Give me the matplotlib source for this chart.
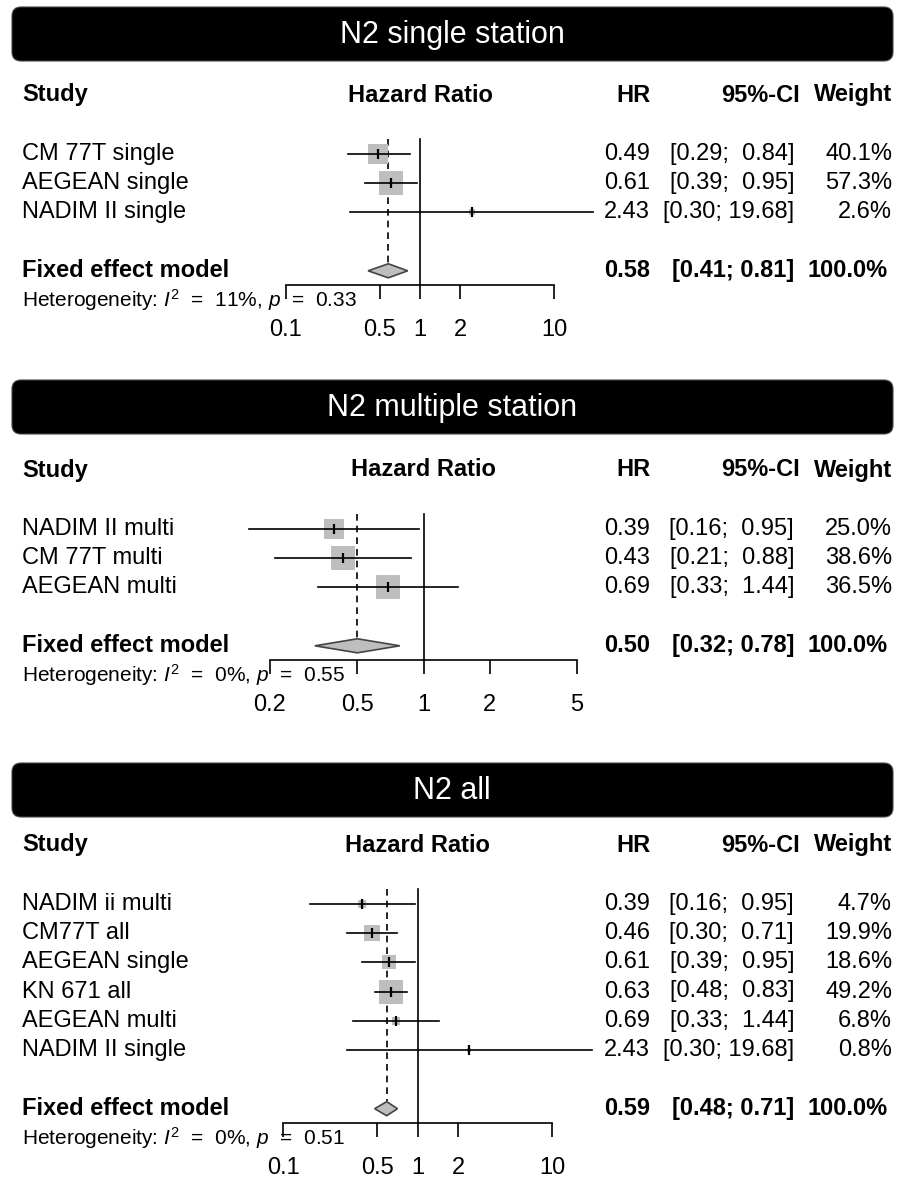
"""
Forest plots of N2 subgroups (single station / multiple station / all)
"""
import matplotlib.pyplot as plt
import matplotlib.transforms as mtransforms
from matplotlib.patches import FancyBboxPatch, Polygon
from matplotlib.ticker import FuncFormatter, NullLocator
import numpy as np

plt.rcParams['font.family'] = ['Liberation Sans', 'DejaVu Sans']
plt.rcParams['mathtext.fontset'] = 'custom'
plt.rcParams['mathtext.rm'] = 'Liberation Sans'
plt.rcParams['mathtext.it'] = 'Liberation Sans:italic'

# ============= DATA =============
single_studies = ["CM 77T single", "AEGEAN single", "NADIM II single"]
single_hr = [0.49, 0.61, 2.43]
single_lo = [0.29, 0.39, 0.30]
single_hi = [0.84, 0.95, 19.68]
single_wt = [40.1, 57.3, 2.6]
single_fixed = [0.58, 0.41, 0.81]
single_het = ["11%", "0.33"]
single_ticks = [0.1, 0.5, 1, 2, 10]

multi_studies = ["NADIM II multi", "CM 77T multi", "AEGEAN multi"]
multi_hr = [0.39, 0.43, 0.69]
multi_lo = [0.16, 0.21, 0.33]
multi_hi = [0.95, 0.88, 1.44]
multi_wt = [25.0, 38.6, 36.5]
multi_fixed = [0.50, 0.32, 0.78]
multi_het = ["0%", "0.55"]
multi_ticks = [0.2, 0.5, 1, 2, 5]

all_studies = ["NADIM ii multi", "CM77T all", "AEGEAN single",
               "KN 671 all", "AEGEAN multi", "NADIM II single"]
all_hr = [0.39, 0.46, 0.61, 0.63, 0.69, 2.43]
all_lo = [0.16, 0.30, 0.39, 0.48, 0.33, 0.30]
all_hi = [0.95, 0.71, 0.95, 0.83, 1.44, 19.68]
all_wt = [4.7, 19.9, 18.6, 49.2, 6.8, 0.8]
all_fixed = [0.59, 0.48, 0.71]
all_het = ["0%", "0.51"]
all_ticks = [0.1, 0.5, 1, 2, 10]

# ============= LAYOUT (pixels) =============
W, H = 900, 1182
RH = 29.3          # row height
FS = 17            # main font size
GRAY = '#bebebe'

fig = plt.figure(figsize=(W / 100, H / 100), dpi=100)
bg = fig.add_axes([0, 0, 1, 1])
bg.set_xlim(0, W)
bg.set_ylim(H, 0)
bg.axis('off')


def draw_panel(title, bar_top, header_y, px_range, ticks,
               studies, hr, lo, hi, wt, fixed, het):
    k = len(studies)
    bottom_row = k + 3.5
    top_px = header_y - 0.5 * RH
    bot_px = header_y + bottom_row * RH

    # title bar
    bar = FancyBboxPatch((12, bar_top), 881, 54,
                         boxstyle="round,pad=0,rounding_size=9",
                         facecolor='black', edgecolor='#444444', lw=0.8)
    bg.add_patch(bar)
    bg.text(452, bar_top + 28, title, color='white', fontsize=22,
            ha='center', va='center')

    ax = fig.add_axes([px_range[0] / W, 1 - bot_px / H,
                       (px_range[1] - px_range[0]) / W, (bot_px - top_px) / H])
    ax.patch.set_visible(False)
    ax.set_xscale('log')
    ax.set_xlim(ticks[0], ticks[-1])
    ax.set_ylim(bottom_row, -0.5)
    ax.set_xticks(ticks)
    ax.xaxis.set_minor_locator(NullLocator())
    ax.xaxis.set_major_formatter(FuncFormatter(lambda v, _: f"{v:g}"))
    ax.set_yticks([])
    for s in ['top', 'left', 'right']:
        ax.spines[s].set_visible(False)
    ax.spines['bottom'].set_linewidth(1.2)
    ax.tick_params(axis='x', direction='out', length=10, width=1.2,
                   labelsize=FS, pad=14)

    yf = k + 3
    # reference line and fixed-effect dashed line
    ax.plot([1, 1], [1.5, bottom_row], color='black', lw=1.2, clip_on=False)
    ax.plot([fixed[0], fixed[0]], [1.5, yf - 0.25], color='black', lw=1.2,
            ls=(0, (4, 3)), clip_on=False)

    # studies
    wmax = max(wt)
    for i in range(k):
        y = 2 + i
        side = 17.3 * np.sqrt(wt[i] / wmax)
        ax.scatter([hr[i]], [y], s=side ** 2, marker='s', color=GRAY,
                   zorder=2, clip_on=False, linewidths=0)
        ax.plot([lo[i], hi[i]], [y, y], color='black', lw=1.2,
                zorder=3, clip_on=False)
        ax.plot([hr[i]], [y], marker='|', ms=7, mew=1.6, color='black',
                zorder=4, clip_on=False)

    # diamond
    dia = Polygon([(fixed[1], yf), (fixed[0], yf - 0.24),
                   (fixed[2], yf), (fixed[0], yf + 0.24)],
                  closed=True, facecolor=GRAY, edgecolor='#444444',
                  lw=1.2, zorder=3, clip_on=False)
    ax.add_patch(dia)

    # text columns
    tr = mtransforms.blended_transform_factory(bg.transData, ax.transData)
    ax.text(22, 0, "Study", transform=tr, fontsize=FS, fontweight='bold',
            ha='left', va='center')
    ax.text(1, 0, "Hazard Ratio", fontsize=FS, fontweight='bold',
            ha='center', va='center', clip_on=False)
    ax.text(650, 0, "HR", transform=tr, fontsize=FS, fontweight='bold',
            ha='right', va='center')
    ax.text(800, 0, "95%-CI", transform=tr, fontsize=FS, fontweight='bold',
            ha='right', va='center')
    ax.text(892, 0, "Weight", transform=tr, fontsize=FS, fontweight='bold',
            ha='right', va='center')

    for i in range(k):
        y = 2 + i
        ax.text(22, y, studies[i], transform=tr, fontsize=FS,
                ha='left', va='center')
        ax.text(650, y, f"{hr[i]:.2f}", transform=tr, fontsize=FS,
                ha='right', va='center')
        ax.text(794, y, f"[{lo[i]:.2f}; {hi[i]:5.2f}]",
                transform=tr, fontsize=FS, ha='right', va='center')
        ax.text(892, y, f"{wt[i]:.1f}%", transform=tr, fontsize=FS,
                ha='right', va='center')

    ax.text(22, yf, "Fixed effect model", transform=tr, fontsize=FS,
            fontweight='bold', ha='left', va='center')
    ax.text(650, yf, f"{fixed[0]:.2f}", transform=tr, fontsize=FS,
            fontweight='bold', ha='right', va='center')
    ax.text(794, yf, f"[{fixed[1]:.2f}; {fixed[2]:.2f}]", transform=tr,
            fontsize=FS, fontweight='bold', ha='right', va='center')
    ax.text(888, yf, "100.0%", transform=tr, fontsize=FS,
            fontweight='bold', ha='right', va='center')

    ax.text(22, k + 4.0,
            rf"Heterogeneity: $I^2$  =  {het[0]}, $p$  =  {het[1]}",
            transform=tr, fontsize=15, ha='left', va='center')
    return ax


draw_panel("N2 single station", 7, 95, (286, 554), single_ticks,
           single_studies, single_hr, single_lo, single_hi, single_wt,
           single_fixed, single_het)
draw_panel("N2 multiple station", 380, 470, (270, 577), multi_ticks,
           multi_studies, multi_hr, multi_lo, multi_hi, multi_wt,
           multi_fixed, multi_het)
draw_panel("N2 all", 763, 845, (283, 552), all_ticks,
           all_studies, all_hr, all_lo, all_hi, all_wt,
           all_fixed, all_het)

fig.savefig("out.png", dpi=100, facecolor='white')
